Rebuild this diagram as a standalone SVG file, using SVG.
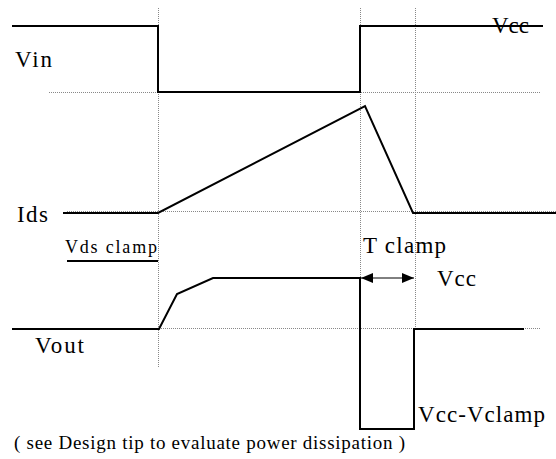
<svg xmlns="http://www.w3.org/2000/svg" width="556" height="459" viewBox="0 0 556 459">
<style>
.sig{fill:none;stroke:#000;stroke-width:2;stroke-linejoin:miter}
.dot{fill:none;stroke:#888;stroke-width:1;stroke-dasharray:1,1}
text{font-family:"Liberation Serif","Times New Roman",serif;fill:#000}
.lbl{font-size:23px}
.sm{font-size:18px}
.note{font-size:19px}
</style>
<defs>
<marker id="ah" viewBox="0 0 12 10" refX="12" refY="5" markerWidth="12" markerHeight="10" markerUnits="userSpaceOnUse" orient="auto-start-reverse">
<path d="M0,0 L12,5 L0,10 Z" fill="#000"/>
</marker>
</defs>
<g id="guides">
<line class="dot" x1="158.5" y1="8" x2="158.5" y2="368"/>
<line class="dot" x1="360.5" y1="8" x2="360.5" y2="330"/>
<line class="dot" x1="415.5" y1="8" x2="415.5" y2="330"/>
<line class="dot" x1="49" y1="92.5" x2="540" y2="92.5"/>
<line class="dot" x1="67" y1="211.5" x2="556" y2="211.5"/>
<line class="dot" x1="159" y1="328.5" x2="540" y2="328.5"/>
</g>
<g id="vin">
<polyline class="sig" points="12,26 158,26 158,92 360,92 360,26 543,26"/>
<text class="lbl" x="15" y="67" textLength="37" lengthAdjust="spacing">Vin</text>
<text class="lbl" x="492" y="33" textLength="37" lengthAdjust="spacing">Vcc</text>
</g>
<g id="ids">
<polyline class="sig" points="63,213 158,213 365,106 413,213 556,213"/>
<text class="lbl" x="17" y="222" textLength="31" lengthAdjust="spacing">Ids</text>
</g>
<g id="vds">
<line class="sig" x1="67" y1="261" x2="158" y2="261"/>
<text class="sm" x="65" y="253" textLength="92" lengthAdjust="spacing">Vds  clamp</text>
</g>
<g id="vout">
<polyline class="sig" points="12,329 159,329 177,294 213,278 360,278 360,429 414,429 414,329 524,329"/>
<text class="lbl" x="35" y="353" textLength="49" lengthAdjust="spacing">Vout</text>
<text class="lbl" x="418" y="422" textLength="127" lengthAdjust="spacing">Vcc-Vclamp</text>
<text class="lbl" x="437" y="286" textLength="39" lengthAdjust="spacing">Vcc</text>
</g>
<g id="connectors">
<line x1="361" y1="278" x2="414" y2="278" stroke="#000" stroke-width="1" marker-start="url(#ah)" marker-end="url(#ah)"/>
</g>
<g id="tclamp">
<text class="lbl" x="363" y="253" textLength="83" lengthAdjust="spacing">T clamp</text>
</g>
<g id="note">
<text class="note" x="14" y="449" textLength="391" lengthAdjust="spacing">(  see Design tip to evaluate power dissipation )</text>
</g>
</svg>
